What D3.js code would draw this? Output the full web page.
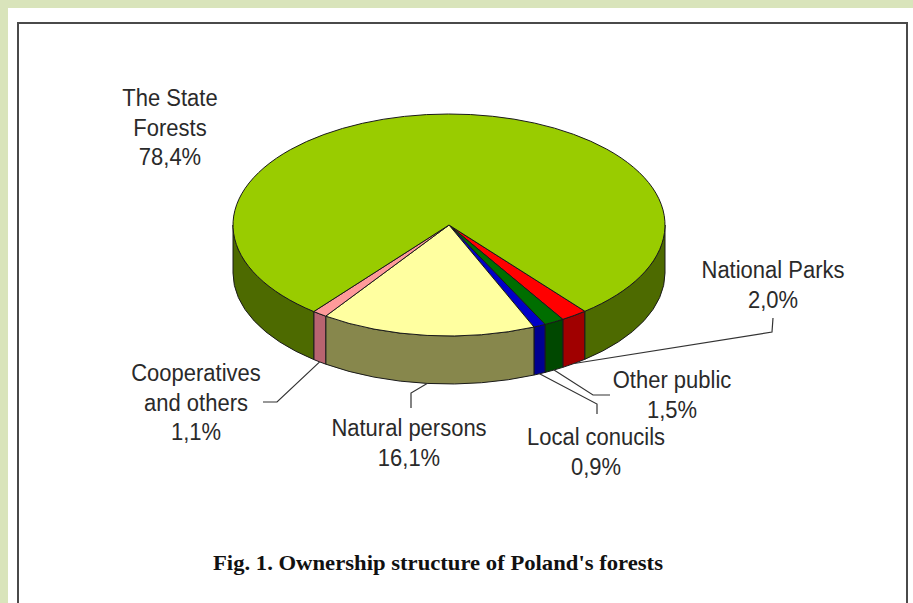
<!DOCTYPE html>
<html>
<head>
<meta charset="utf-8">
<script src="https://cdn.jsdelivr.net/npm/d3@7"></script>
<style>
  html, body { margin: 0; padding: 0; background: #d9e4bb; }
  svg { display: block; }
</style>
</head>
<body>
<div id="chart-area"></div>
<script>

// data
var categories = ["National Parks", "Other public", "Local conucils", "Natural persons", "Cooperatives and others", "The State Forests"]
var shares = [2.0, 1.5, 0.9, 16.1, 1.1, 78.4]
var labelLines = [
  ["National Parks", "2,0%"],
  ["Other public", "1,5%"],
  ["Local conucils", "0,9%"],
  ["Natural persons", "16,1%"],
  ["Cooperatives", "and others", "1,1%"],
  ["The State", "Forests", "78,4%"]
]
var topColors = ["#ff0000", "#006e00", "#0000c8", "#ffffa0", "#ff9a9a", "#99cc00"]
var sideColors = ["#a00000", "#004800", "#000090", "#87874c", "#b86470", "#4d6a00"]

var width = 913, height = 603

// pie geometry (tilted ellipse)
var cx = 449, cy = 225, rx = 216, ry = 111, depth = 48
var start = 141 * Math.PI / 180

// label layout: text centre x, first baseline y, leader bends
var labelPos = [
  { x: 773, y: 278, leader: [[772, 332], [773, 318]] },
  { x: 672, y: 388, leader: [[593, 395], [610, 395]] },
  { x: 596, y: 445, leader: [[597, 404], [597, 414]] },
  { x: 409, y: 436, leader: [[411, 393], [411, 408]] },
  { x: 196, y: 381, leader: [[277, 402], [263, 402]] },
  { x: 170, y: 106, leader: null }
]

var svg = d3.select("#chart-area").append("svg")
    .attr("width", width)
    .attr("height", height)

// white panel with frame
svg.append("rect")
  .attr("x", 8).attr("y", 8)
  .attr("width", width - 8).attr("height", height)
  .attr("fill", "#ffffff")

svg.append("rect")
  .attr("x", 18).attr("y", 23)
  .attr("width", 889).attr("height", height)
  .attr("fill", "none")
  .attr("stroke", "#4a4a4a")
  .attr("stroke-width", 2)

var pie = d3.pie()
  .sort(null)
  .startAngle(start)
  .endAngle(start + 2 * Math.PI)

var arcs = pie(shares)

function pt(a, dy) {
  return [cx + rx * Math.sin(a), cy - ry * Math.cos(a) + (dy || 0)]
}

function topPath(d) {
  var p0 = pt(d.startAngle), p1 = pt(d.endAngle)
  var large = (d.endAngle - d.startAngle) > Math.PI ? 1 : 0
  return "M" + cx + "," + cy + "L" + p0 + "A" + rx + "," + ry + " 0 " + large + " 1 " + p1 + "Z"
}

// front part of the rim, a in [90deg, 270deg] (mod 360)
function sideParts(d) {
  var parts = []
  for (var k = 0; k < 2; k++) {
    var lo = Math.PI / 2 + k * 2 * Math.PI, hi = 3 * Math.PI / 2 + k * 2 * Math.PI
    var s = Math.max(lo, d.startAngle), e = Math.min(hi, d.endAngle)
    if (e > s) parts.push([s, e])
  }
  return parts
}

function sidePath(se) {
  var s = se[0], e = se[1]
  return "M" + pt(s) + "A" + rx + "," + ry + " 0 0 1 " + pt(e) +
    "L" + pt(e, depth) + "A" + rx + "," + ry + " 0 0 0 " + pt(s, depth) + "Z"
}

var g = svg.append("g")

arcs.forEach(function(d, i) {
  sideParts(d).forEach(function(se) {
    g.append("path")
      .attr("d", sidePath(se))
      .attr("fill", sideColors[i])
      .attr("stroke", "#1a1a1a")
      .attr("stroke-width", 1)
      .attr("stroke-linejoin", "round")
  })
})

g.selectAll("path.top")
  .data(arcs)
  .enter().append("path")
    .attr("class", "top")
    .attr("d", topPath)
    .attr("fill", function(d, i) { return topColors[i] })
    .attr("stroke", "#1a1a1a")
    .attr("stroke-width", 1)
    .attr("stroke-linejoin", "round")

// leader lines from the bottom of the rim
arcs.forEach(function(d, i) {
  var lp = labelPos[i]
  if (!lp.leader) return
  var mid = (d.startAngle + d.endAngle) / 2
  var pts = [pt(mid, depth)].concat(lp.leader)
  svg.append("path")
    .attr("d", d3.line()(pts))
    .attr("fill", "none")
    .attr("stroke", "#333")
    .attr("stroke-width", 1.2)
})

// labels (glyphs a bit taller than plain Arial, as in the scan)
labelLines.forEach(function(lines, i) {
  lines.forEach(function(s, j) {
    svg.append("text")
      .attr("transform", "translate(" + labelPos[i].x + "," + (labelPos[i].y + j * 29.5) + ") scale(1,1.12)")
      .attr("text-anchor", "middle")
      .attr("font-family", "'Liberation Sans', Arial, sans-serif")
      .attr("font-size", "22px")
      .attr("fill", "#2a2a2a")
      .text(s)
  })
})

svg.append("text")
  .attr("x", 438)
  .attr("y", 570)
  .attr("text-anchor", "middle")
  .attr("font-family", "'Liberation Serif', 'Times New Roman', serif")
  .attr("font-weight", "bold")
  .attr("font-size", "21px")
  .attr("textLength", 450)
  .attr("lengthAdjust", "spacingAndGlyphs")
  .attr("fill", "#111")
  .text("Fig. 1. Ownership structure of Poland's forests")

</script>
</body>
</html>
